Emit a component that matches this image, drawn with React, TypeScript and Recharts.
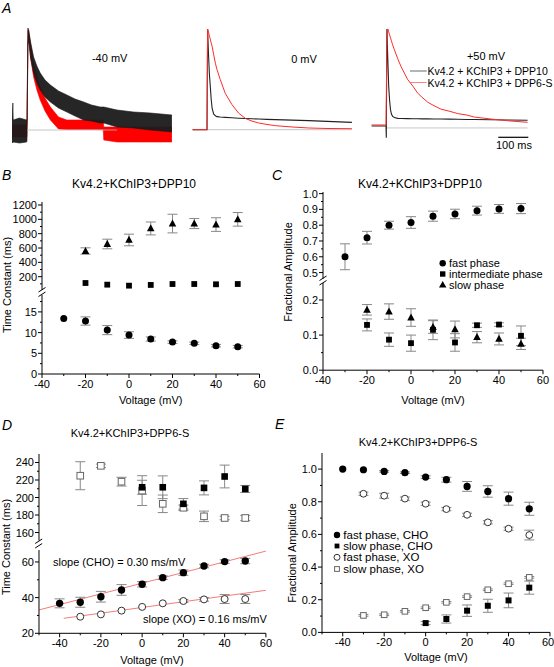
import React from 'react';
import { ComposedChart, Scatter, Line, Area, XAxis, YAxis, ErrorBar, ReferenceLine } from 'recharts';

const FONT = '"Liberation Sans", Arial, sans-serif';

// ---- A: normalised currents, time (ms) from pulse onset ----
const t40 = [-50, -47, -46, -25, -1, 0, 3, 5.5, 12, 22, 33, 44, 60, 78, 105, 133, 160, 189, 215, 244, 254, 256, 300, 355, 411, 483];
const dpp10Lo40 = [-0.12, -0.13, -0.12, -0.13, -0.12, -0.1, 0.85, 0.9, 0.72, 0.57, 0.47, 0.4, 0.33, 0.28, 0.22, 0.18, 0.14, 0.1, 0.09, 0.07, 0.07, 0.07, 0.03, 0.02, 0.0, -0.02];
const dpp10Hi40 = [0.1, 0.27, 0.1, 0.12, 0.1, 0.1, 1.02, 1.0, 0.88, 0.73, 0.64, 0.57, 0.5, 0.45, 0.39, 0.35, 0.31, 0.28, 0.25, 0.23, 0.23, 0.23, 0.2, 0.18, 0.17, 0.15];
const dpp6Lo40 = [-0.07, -0.07, -0.07, -0.07, -0.07, -0.05, 0.85, 0.92, 0.72, 0.53, 0.4, 0.3, 0.19, 0.1, 0.01, 0.005, 0.005, 0.005, 0.005, 0.005, 0.005, -0.1, -0.12, -0.12, -0.12, -0.12];
const dpp6Hi40 = [0.05, 0.05, 0.05, 0.05, 0.05, 0.05, 1.0, 1.0, 0.85, 0.67, 0.53, 0.43, 0.32, 0.23, 0.13, 0.1, 0.1, 0.1, 0.1, 0.1, 0.1, 0.03, 0.03, 0.03, 0.03, 0.03];

const t0 = [-48, -1, 0, 2, 5, 8, 11, 14, 17, 22, 28, 33, 44, 61, 83, 105, 128, 150, 172, 200, 228, 283, 339, 400, 483];
const dpp10_0 = [0, 0, 0, 1.0, 0.75, 0.55, 0.43, 0.3, 0.215, 0.156, 0.138, 0.13, 0.126, 0.122, 0.118, 0.114, 0.111, 0.108, 0.106, 0.103, 0.1, 0.095, 0.09, 0.083, 0.073];
const dpp6_0 = [0, 0, 0, 1.0, 0.97, 0.93, 0.9, 0.86, 0.83, 0.75, 0.66, 0.6, 0.5, 0.36, 0.25, 0.166, 0.112, 0.085, 0.067, 0.052, 0.04, 0.027, 0.017, 0.012, 0.01];

const t50 = [-48, -1, 0, 1, 3, 6, 9, 12, 15, 18, 22, 28, 39, 50, 72, 90, 105, 120, 139, 160, 183, 210, 239, 270, 294, 350, 405, 472];
const dpp10_50 = [0.02, 0.02, 0.02, -0.1, 1.0, 0.7, 0.42, 0.28, 0.185, 0.14, 0.117, 0.105, 0.097, 0.095, 0.094, 0.093, 0.093, 0.092, 0.092, 0.091, 0.09, 0.089, 0.088, 0.086, 0.085, 0.083, 0.08, 0.078];
const dpp6_50 = [0.03, 0.03, 0.03, 0.3, 0.9, 1.0, 0.97, 0.94, 0.91, 0.88, 0.84, 0.79, 0.7, 0.62, 0.49, 0.42, 0.354, 0.31, 0.26, 0.225, 0.19, 0.17, 0.145, 0.13, 0.11, 0.09, 0.073, 0.057];

// ---- B: DPP10 time constants ----
const vB = [-20, -10, 0, 10, 20, 30, 40, 50];
const vBFast = [-30, -20, -10, 0, 10, 20, 30, 40, 50];
const tauSlowB = [558, 656, 712, 873, 941, 941, 927, 1000];
const tauSlowBErr = [45, 67, 81, 90, 130, 70, 95, 95];
const tauInterB = [112, 89, 75, 85, 98, 98, 94, 98];
const tauFastB = [13.4, 12.8, 10.6, 9.4, 8.45, 7.7, 7.4, 6.85, 6.6];
const tauFastBErr = [0, 1.0, 1.1, 0.8, 0.5, 0.3, 0.3, 0.3, 0.3];

// ---- C: DPP10 fractional amplitudes ----
const vC = [-30, -20, -10, 0, 10, 20, 30, 40, 50];
const vC2 = [-20, -10, 0, 10, 20, 30, 40, 50];
const ampFastC = [0.6, 0.721, 0.8, 0.817, 0.857, 0.871, 0.892, 0.903, 0.905];
const ampFastCErr = [0.082, 0.04, 0.025, 0.037, 0.032, 0.03, 0.028, 0.028, 0.032];
const ampInterC = [0.129, 0.087, 0.077, 0.115, 0.079, 0.128, 0.13, 0.098];
const ampInterCErr = [0.017, 0.019, 0.023, 0.028, 0.025, 0.006, 0.005, 0.028];
const ampSlowC = [0.172, 0.167, 0.15, 0.123, 0.116, 0.094, 0.089, 0.075];
const ampSlowCErr = [0.015, 0.022, 0.025, 0.018, 0.024, 0.016, 0.017, 0.016];

// ---- D: DPP6-S time constants, CHO vs XO ----
const vD = [-40, -30, -20, -10, 0, 10, 20, 30, 40, 50];
const vDXo = [-30, -20, -10, 0, 10, 20, 30, 40, 50];
const vDSlowCho = [0, 10, 20, 30, 40, 50];
const tauFastCho = [36.8, 37.4, 40.5, 44.3, 47.5, 51.2, 54, 57.7, 60.2, 60.5];
const tauFastChoErr = [2.5, 2.8, 3, 3, 1.5, 1, 1.5, 1, 1, 1.5];
const tauFastXo = [29.3, 30.6, 32.7, 34.8, 36.8, 38.1, 39, 39.2, 39.2];
const tauFastXoErr = [0, 0, 0, 0, 0, 0.8, 1, 2.5, 2.5];
const tauSlowCho = [211.7, 211.7, 192.8, 211, 224, 209.8];
const tauSlowChoErr = [8, 13, 6, 8, 13, 4];
const tauSlowXo = [224.9, 236.2, 218.1, 207.9, 192.8, 188.3, 178.5, 176.6, 176.6];
const tauSlowXoErr = [16, 2, 5, 17, 10, 3, 6, 2, 3];
const fitChoV = [-50, 60];
const fitChoTau = [33.1, 66.1];
const fitXoV = [-38, 60];
const fitXoTau = [28.4, 44.1];

// ---- E: DPP6-S fractional amplitudes ----
const vE = [-40, -30, -20, -10, 0, 10, 20, 30, 40, 50];
const vEXo = [-30, -20, -10, 0, 10, 20, 30, 40, 50];
const vESlowCho = [0, 10, 20, 30, 40, 50];
const ampFastCho = [1.0, 0.996, 0.986, 0.978, 0.951, 0.935, 0.894, 0.863, 0.819, 0.757];
const ampFastChoErr = [0, 0, 0.005, 0.005, 0.008, 0.015, 0.03, 0.035, 0.04, 0.04];
const ampFastXo = [0.849, 0.837, 0.819, 0.788, 0.755, 0.72, 0.674, 0.635, 0.596];
const ampFastXoErr = [0.01, 0.015, 0.01, 0.01, 0.01, 0.01, 0.01, 0.01, 0.03];
const ampSlowCho = [0.057, 0.082, 0.133, 0.163, 0.196, 0.274];
const ampSlowChoErr = [0.01, 0.025, 0.035, 0.04, 0.045, 0.04];
const ampSlowXo = [0.104, 0.108, 0.129, 0.151, 0.184, 0.219, 0.261, 0.298, 0.337];
const ampSlowXoErr = [0.005, 0.005, 0.005, 0.005, 0.005, 0.005, 0.005, 0.005, 0.005];

const pts = (v: number[], y: number[], e?: number[]) => v.map((x, i) => ({ v: x, y: y[i], e: e ? e[i] : 0 }));
const band = (t: number[], lo: number[], hi: number[], lo2: number[], hi2: number[]) =>
  t.map((x, i) => ({ t: x, a: [lo[i], hi[i]], b: [lo2[i], hi2[i]] }));
const pair = (t: number[], a: number[], b: number[]) => t.map((x, i) => ({ t: x, a: a[i], b: b[i] }));

const TS = 4;
const TM = 2;
const YW = 44;
const PT = 8;
const PR = 12;
const XH = 24;

function yTick(maj: number[], dec: number) {
  return (p: any) => {
    const v = Number(p.payload.value);
    const isMaj = maj.some((m) => Math.abs(m - v) < 1e-6);
    const ax = p.x + TS + TM;
    return (
      <g>
        <line x1={ax} x2={ax - (isMaj ? 4 : 2)} y1={p.y} y2={p.y} stroke="#000" />
        {isMaj && (
          <text x={ax - 5} y={p.y + 4} textAnchor="end" fontSize={11} fontFamily={FONT} fill="#000">
            {v.toFixed(dec)}
          </text>
        )}
      </g>
    );
  };
}

function xTick(maj: number[], lastShift = 0) {
  return (p: any) => {
    const v = Number(p.payload.value);
    const isMaj = maj.includes(v);
    const ay = p.y - TS - TM;
    const dx = v === maj[maj.length - 1] ? lastShift : 0;
    return (
      <g>
        <line x1={p.x} x2={p.x} y1={ay} y2={ay + (isMaj ? 4 : 2)} stroke="#000" />
        {isMaj && (
          <text x={p.x + dx} y={ay + 14} textAnchor="middle" fontSize={11} fontFamily={FONT} fill="#000">
            {v}
          </text>
        )}
      </g>
    );
  };
}

function marker(kind: string, r = 3.5) {
  return (p: any) => {
    const { cx, cy } = p;
    if (cx == null || cy == null) return <g />;
    if (kind === 'dot') return <circle cx={cx} cy={cy} r={r} fill="#000" />;
    if (kind === 'odot') return <circle cx={cx} cy={cy} r={r} fill="#fff" stroke="#333" strokeWidth={1} />;
    if (kind === 'sq') return <rect x={cx - r} y={cy - r} width={2 * r} height={2 * r} fill="#000" />;
    if (kind === 'osq') return <rect x={cx - r} y={cy - r} width={2 * r} height={2 * r} fill="#fff" stroke="#666" strokeWidth={1} />;
    return <polygon points={`${cx},${cy - r * 1.15} ${cx - r * 1.05},${cy + r * 0.8} ${cx + r * 1.05},${cy + r * 0.8}`} fill="#000" />;
  };
}

type FrameProps = {
  x0: number; x1: number; y0: number; y1: number;
  xDom: number[]; yDom: number[];
  xMaj: number[]; xMin: number[]; yMaj: number[]; yMin: number[]; yDec: number;
  showX: boolean; lastShift?: number; children: React.ReactNode;
};

function Frame(p: FrameProps) {
  const w = p.x1 - p.x0 + YW + PR;
  const h = p.y1 - p.y0 + PT + (p.showX ? XH : 4);
  return (
    <div style={{ position: 'absolute', left: p.x0 - YW, top: p.y0 - PT }}>
      <ComposedChart width={w} height={h} margin={{ top: PT, right: PR, bottom: p.showX ? 0 : 4, left: 0 }}>
        <XAxis
          type="number" dataKey="v" domain={p.xDom} allowDataOverflow hide={!p.showX} height={XH}
          ticks={[...p.xMaj, ...p.xMin]} interval={0} tickSize={TS} tickMargin={TM} tickLine={false}
          tick={xTick(p.xMaj, p.lastShift || 0)} axisLine={{ stroke: '#000' }}
        />
        <YAxis
          type="number" dataKey="y" domain={p.yDom} allowDataOverflow width={YW}
          ticks={[...p.yMaj, ...p.yMin]} interval={0} tickSize={TS} tickMargin={TM} tickLine={false}
          tick={yTick(p.yMaj, p.yDec)} axisLine={{ stroke: '#000' }}
        />
        {p.children}
      </ComposedChart>
    </div>
  );
}

function Trace(p: { left: number; top: number; h: number; data: any[]; range?: boolean; end: number }) {
  return (
    <div style={{ position: 'absolute', left: p.left, top: p.top }}>
      <ComposedChart width={162} height={p.h} data={p.data} margin={{ top: 0, right: 0, bottom: 0, left: 0 }}>
        <XAxis type="number" dataKey="t" domain={[-50, 490]} allowDataOverflow hide />
        <YAxis type="number" domain={[-0.15, 1.05]} allowDataOverflow hide />
        <ReferenceLine segment={[{ x: 0, y: 0 }, { x: p.end, y: 0 }]} stroke="#b8b8b8" strokeWidth={0.8} />
        {p.range ? (
          <Area dataKey="b" type="linear" stroke="#ff0000" strokeWidth={0.6} fill="#ff0000" fillOpacity={1} isAnimationActive={false} />
        ) : (
          <Line dataKey="a" type="linear" stroke="#222" strokeWidth={1.1} dot={false} activeDot={false} isAnimationActive={false} />
        )}
        {p.range ? (
          <Area dataKey="a" type="linear" stroke="#1a1a1a" strokeWidth={0.6} fill="#1a1a1a" fillOpacity={0.95} isAnimationActive={false} />
        ) : (
          <Line dataKey="b" type="linear" stroke="#ff2a2a" strokeWidth={1} dot={false} activeDot={false} isAnimationActive={false} />
        )}
      </ComposedChart>
    </div>
  );
}

const xMajB = [-40, -20, 0, 20, 40, 60];
const xMinB = [-30, -10, 10, 30, 50];
const xMajD = [-40, -20, 0, 20, 40, 60];
const xMinD = [-50, -30, -10, 10, 30, 50];
const ebar = <ErrorBar dataKey="e" direction="y" width={5} stroke="#888" strokeWidth={1} />;

export default function App() {
  const txt = { fontFamily: FONT, fill: '#000' } as const;
  return (
    <div style={{ position: 'absolute', left: 0, top: 0, width: 554, height: 667, background: '#fff', fontFamily: FONT }}>
      {/* A */}
      <Trace left={11.7} top={25} h={120} data={band(t40, dpp10Lo40, dpp10Hi40, dpp6Lo40, dpp6Hi40)} range end={300} />
      <Trace left={191.7} top={24.3} h={120.8} data={pair(t0, dpp10_0, dpp6_0)} end={483} />
      <Trace left={370.7} top={24.35} h={118.8} data={pair(t50, dpp10_50, dpp6_50)} end={472} />

      {/* B upper */}
      <Frame x0={42} x1={259.5} y0={202} y1={290} xDom={[-40, 60]} yDom={[14.5, 1241.8]}
        xMaj={xMajB} xMin={xMinB} yMaj={[200, 400, 600, 800, 1000, 1200]} yMin={[100, 300, 500, 700, 900, 1100]} yDec={0} showX={false}>
        <Scatter data={pts(vB, tauSlowB, tauSlowBErr)} shape={marker('tri', 3.6)} isAnimationActive={false}>{ebar}</Scatter>
        <Scatter data={pts(vB, tauInterB)} shape={marker('sq', 2.9)} isAnimationActive={false} />
      </Frame>
      {/* B lower */}
      <Frame x0={42} x1={259.5} y0={295} y1={374} xDom={[-40, 60]} yDom={[0, 19.08]}
        xMaj={xMajB} xMin={xMinB} yMaj={[0, 5, 10, 15]} yMin={[2.5, 7.5, 12.5, 17.5]} yDec={0} showX>
        <Scatter data={pts(vBFast, tauFastB, tauFastBErr)} shape={marker('dot', 3.5)} isAnimationActive={false}>{ebar}</Scatter>
      </Frame>

      {/* C upper */}
      <Frame x0={323} x1={543} y0={191.7} y1={278.3} xDom={[-40, 60]} yDom={[0.4619, 1.0101]}
        xMaj={xMajB} xMin={xMinB} yMaj={[0.5, 0.6, 0.7, 0.8, 0.9, 1.0]} yMin={[0.55, 0.65, 0.75, 0.85, 0.95]} yDec={1} showX={false}>
        <Scatter data={pts(vC, ampFastC, ampFastCErr)} shape={marker('dot', 3.5)} isAnimationActive={false}>{ebar}</Scatter>
      </Frame>
      {/* C lower */}
      <Frame x0={323} x1={543} y0={283.3} y1={370.5} xDom={[-40, 60]} yDom={[0, 0.2484]}
        xMaj={xMajB} xMin={xMinB} yMaj={[0, 0.1, 0.2]} yMin={[0.05, 0.15]} yDec={1} showX>
        <Scatter data={pts(vC2, ampInterC, ampInterCErr)} shape={marker('sq', 2.9)} isAnimationActive={false}>{ebar}</Scatter>
        <Scatter data={pts(vC2, ampSlowC, ampSlowCErr)} shape={marker('tri', 3.6)} isAnimationActive={false}>{ebar}</Scatter>
      </Frame>

      {/* D upper */}
      <Frame x0={38.7} x1={265.6} y0={453.5} y1={540} xDom={[-50, 60]} yDom={[150.9, 249.7]}
        xMaj={xMajD} xMin={xMinD} yMaj={[160, 180, 200, 220, 240]} yMin={[170, 190, 210, 230]} yDec={0} showX={false}>
        <Scatter data={pts(vDXo, tauSlowXo, tauSlowXoErr)} shape={marker('osq', 3.3)} isAnimationActive={false}>{ebar}</Scatter>
        <Scatter data={pts(vDSlowCho, tauSlowCho, tauSlowChoErr)} shape={marker('sq', 3.3)} isAnimationActive={false}>{ebar}</Scatter>
      </Frame>
      {/* D lower */}
      <Frame x0={38.7} x1={265.6} y0={550} y1={633.3} xDom={[-50, 60]} yDom={[20, 66.7]}
        xMaj={xMajD} xMin={xMinD} yMaj={[20, 40, 60]} yMin={[30, 50]} yDec={0} showX>
        <ReferenceLine segment={[{ x: fitChoV[0], y: fitChoTau[0] }, { x: fitChoV[1], y: fitChoTau[1] }]} stroke="#f47a7a" strokeWidth={1} />
        <ReferenceLine segment={[{ x: fitXoV[0], y: fitXoTau[0] }, { x: fitXoV[1], y: fitXoTau[1] }]} stroke="#f47a7a" strokeWidth={1} />
        <Scatter data={pts(vD, tauFastCho, tauFastChoErr)} shape={marker('dot', 3.7)} isAnimationActive={false}>{ebar}</Scatter>
        <Scatter data={pts(vDXo, tauFastXo, tauFastXoErr)} shape={marker('odot', 3.5)} isAnimationActive={false}>{ebar}</Scatter>
      </Frame>

      {/* E */}
      <Frame x0={322} x1={550} y0={453.3} y1={632.7} xDom={[-50, 60]} yDom={[0, 1.0986]} lastShift={-2}
        xMaj={xMajD} xMin={xMinD} yMaj={[0, 0.2, 0.4, 0.6, 0.8, 1.0]} yMin={[0.1, 0.3, 0.5, 0.7, 0.9]} yDec={1} showX>
        <Scatter data={pts(vE, ampFastCho, ampFastChoErr)} shape={marker('dot', 3.6)} isAnimationActive={false}>{ebar}</Scatter>
        <Scatter data={pts(vEXo, ampFastXo, ampFastXoErr)} shape={marker('odot', 3.4)} isAnimationActive={false}>{ebar}</Scatter>
        <Scatter data={pts(vESlowCho, ampSlowCho, ampSlowChoErr)} shape={marker('sq', 3)} isAnimationActive={false}>{ebar}</Scatter>
        <Scatter data={pts(vEXo, ampSlowXo, ampSlowXoErr)} shape={marker('osq', 2.8)} isAnimationActive={false}>{ebar}</Scatter>
      </Frame>

      <svg width={554} height={667} style={{ position: 'absolute', left: 0, top: 0, pointerEvents: 'none' }}>
        {/* panel letters */}
        <text x={2} y={12.5} fontSize={14} fontStyle="italic" {...txt}>A</text>
        <text x={2} y={180} fontSize={14} fontStyle="italic" {...txt}>B</text>
        <text x={272} y={180} fontSize={14} fontStyle="italic" {...txt}>C</text>
        <text x={2} y={430} fontSize={14} fontStyle="italic" {...txt}>D</text>
        <text x={275} y={429} fontSize={14} fontStyle="italic" {...txt}>E</text>

        {/* A labels */}
        <text x={109.7} y={62} fontSize={11} textAnchor="middle" {...txt}>-40 mV</text>
        <text x={304} y={63} fontSize={11} textAnchor="middle" {...txt}>0 mV</text>
        <text x={486} y={59.5} fontSize={11} textAnchor="middle" {...txt}>+50 mV</text>
        <line x1={410} x2={426.7} y1={71} y2={71} stroke="#444" strokeWidth={0.8} />
        <text x={427.5} y={75} fontSize={10.5} {...txt}>Kv4.2 + KChIP3 + DPP10</text>
        <line x1={410} x2={426.7} y1={82.5} y2={82.5} stroke="#ff6060" strokeWidth={0.8} />
        <text x={427.5} y={86.5} fontSize={10.5} {...txt}>Kv4.2 + KChIP3 + DPP6-S</text>
        <line x1={498.3} x2={528.3} y1={137.3} y2={137.3} stroke="#000" strokeWidth={1.2} />
        <text x={514} y={149} fontSize={11} textAnchor="middle" {...txt}>100 ms</text>

        {/* titles */}
        <text x={134} y={188} fontSize={12} textAnchor="middle" {...txt}>Kv4.2+KChIP3+DPP10</text>
        <text x={420} y={187.5} fontSize={12} textAnchor="middle" {...txt}>Kv4.2+KChIP3+DPP10</text>
        <text x={130} y={436.7} fontSize={11} textAnchor="middle" {...txt}>Kv4.2+KChIP3+DPP6-S</text>
        <text x={418} y={445.7} fontSize={11} textAnchor="middle" {...txt}>Kv4.2+KChIP3+DPP6-S</text>

        {/* axis titles */}
        <text transform="translate(11,285) rotate(-90)" fontSize={11} textAnchor="middle" {...txt}>Time Constant (ms)</text>
        <text transform="translate(292,272) rotate(-90)" fontSize={11} textAnchor="middle" {...txt}>Fractional Amplitude</text>
        <text transform="translate(10,547) rotate(-90)" fontSize={11} textAnchor="middle" {...txt}>Time Constant (ms)</text>
        <text transform="translate(296,553) rotate(-90)" fontSize={11} textAnchor="middle" {...txt}>Fractional Amplitude</text>
        <text x={150.7} y={404} fontSize={11} textAnchor="middle" {...txt}>Voltage (mV)</text>
        <text x={433} y={404} fontSize={11} textAnchor="middle" {...txt}>Voltage (mV)</text>
        <text x={152} y={664} fontSize={11} textAnchor="middle" {...txt}>Voltage (mV)</text>
        <text x={436} y={661} fontSize={11} textAnchor="middle" {...txt}>Voltage (mV)</text>

        {/* axis breaks */}
        <line x1={38.5} y1={292} x2={45.5} y2={287.5} stroke="#000" />
        <line x1={38.5} y1={296.5} x2={45.5} y2={292} stroke="#000" />
        <line x1={319.5} y1={280.5} x2={326.5} y2={276} stroke="#000" />
        <line x1={319.5} y1={285} x2={326.5} y2={280.5} stroke="#000" />
        <line x1={35.2} y1={543.5} x2={42.2} y2={539} stroke="#000" />
        <line x1={35.2} y1={548} x2={42.2} y2={543.5} stroke="#000" />

        {/* C legend */}
        <circle cx={442.7} cy={263.3} r={3.2} fill="#000" />
        <text x={449} y={267.3} fontSize={11} {...txt}>fast phase</text>
        <rect x={440} y={271.3} width={5.4} height={5.4} fill="#000" />
        <text x={449} y={278} fontSize={11} {...txt}>intermediate phase</text>
        <polygon points="442.7,281 439,287.5 446.4,287.5" fill="#000" />
        <text x={449} y={289} fontSize={11} {...txt}>slow phase</text>

        {/* E legend */}
        <circle cx={337} cy={535} r={3.2} fill="#000" />
        <text x={343.3} y={539} fontSize={11.5} {...txt}>fast phase, CHO</text>
        <rect x={334.6} y={543.6} width={4.8} height={4.8} fill="#000" />
        <text x={343.3} y={550} fontSize={11.5} {...txt}>slow phase, CHO</text>
        <circle cx={337} cy={557.3} r={3} fill="#fff" stroke="#333" />
        <text x={343.3} y={561.3} fontSize={11.5} {...txt}>fast phase, XO</text>
        <rect x={334.6} y={566.6} width={4.8} height={4.8} fill="#fff" stroke="#666" />
        <text x={343.3} y={573} fontSize={11.5} {...txt}>slow phase, XO</text>

        {/* D annotations */}
        <text x={53} y={565.5} fontSize={11} {...txt}>slope (CHO) = 0.30 ms/mV</text>
        <text x={143} y={623} fontSize={11} {...txt}>slope (XO) = 0.16 ms/mV</text>
      </svg>
    </div>
  );
}
